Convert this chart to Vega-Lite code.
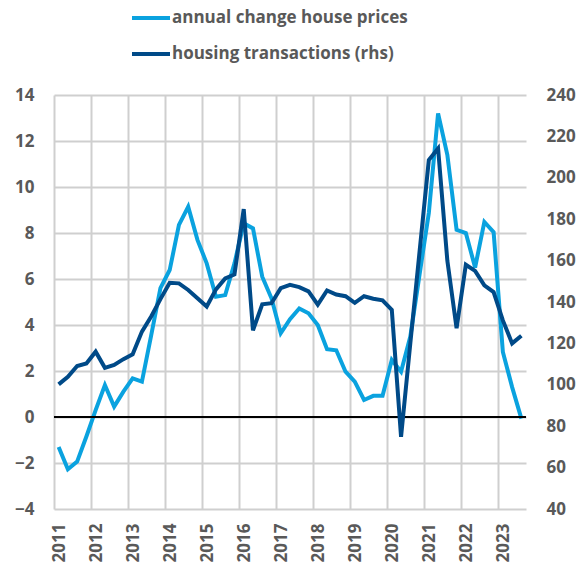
{
  "$schema": "https://vega.github.io/schema/vega-lite/v6.json",
  "width": 472,
  "height": 414,
  "autosize": "none",
  "padding": {"left": 54, "top": 95, "right": 60, "bottom": 57},
  "background": "white",
  "config": {
    "view": {"stroke": null},
    "font": "Open Sans",
    "axis": {
      "labelFont": "Open Sans",
      "labelFontWeight": "bold",
      "labelFontSize": 17,
      "labelColor": "#595959",
      "ticks": false,
      "domain": false,
      "gridColor": "#cfcfcf",
      "gridWidth": 2
    }
  },
  "data": {
    "values": [
      {"t": 2011.125, "price": -1.3, "transactions": 100.2},
      {"t": 2011.375, "price": -2.27, "transactions": 103.9},
      {"t": 2011.625, "price": -1.94, "transactions": 109.1},
      {"t": 2011.875, "price": -0.85, "transactions": 110.3},
      {"t": 2012.125, "price": 0.3, "transactions": 116.0},
      {"t": 2012.375, "price": 1.39, "transactions": 108.2},
      {"t": 2012.625, "price": 0.45, "transactions": 109.6},
      {"t": 2012.875, "price": 1.1, "transactions": 112.4},
      {"t": 2013.125, "price": 1.68, "transactions": 114.7},
      {"t": 2013.375, "price": 1.54, "transactions": 125.7},
      {"t": 2013.625, "price": 3.55, "transactions": 133.0},
      {"t": 2013.875, "price": 5.6, "transactions": 141.4},
      {"t": 2014.125, "price": 6.39, "transactions": 149.3},
      {"t": 2014.375, "price": 8.35, "transactions": 149.0},
      {"t": 2014.625, "price": 9.14, "transactions": 145.8},
      {"t": 2014.875, "price": 7.7, "transactions": 141.8},
      {"t": 2015.125, "price": 6.68, "transactions": 137.8},
      {"t": 2015.375, "price": 5.23, "transactions": 146.1},
      {"t": 2015.625, "price": 5.3, "transactions": 151.4},
      {"t": 2015.875, "price": 6.68, "transactions": 153.3},
      {"t": 2016.125, "price": 8.42, "transactions": 184.9},
      {"t": 2016.375, "price": 8.2, "transactions": 126.3},
      {"t": 2016.625, "price": 6.1, "transactions": 138.9},
      {"t": 2016.875, "price": 5.16, "transactions": 139.4},
      {"t": 2017.125, "price": 3.64, "transactions": 146.7},
      {"t": 2017.375, "price": 4.25, "transactions": 148.3},
      {"t": 2017.625, "price": 4.72, "transactions": 147.2},
      {"t": 2017.875, "price": 4.51, "transactions": 145.1},
      {"t": 2018.125, "price": 4.0, "transactions": 138.7},
      {"t": 2018.375, "price": 2.95, "transactions": 145.6},
      {"t": 2018.625, "price": 2.9, "transactions": 143.6},
      {"t": 2018.875, "price": 1.97, "transactions": 142.8},
      {"t": 2019.125, "price": 1.54, "transactions": 139.6},
      {"t": 2019.375, "price": 0.74, "transactions": 142.8},
      {"t": 2019.625, "price": 0.92, "transactions": 141.6},
      {"t": 2019.875, "price": 0.92, "transactions": 140.8},
      {"t": 2020.125, "price": 2.48, "transactions": 136.2},
      {"t": 2020.375, "price": 1.97, "transactions": 74.9},
      {"t": 2020.625, "price": 3.5, "transactions": 120.0},
      {"t": 2020.875, "price": 6.2, "transactions": 164.4},
      {"t": 2021.125, "price": 8.87, "transactions": 208.6},
      {"t": 2021.375, "price": 13.2, "transactions": 214.2},
      {"t": 2021.625, "price": 11.4, "transactions": 160.0},
      {"t": 2021.875, "price": 8.14, "transactions": 127.3},
      {"t": 2022.125, "price": 8.0, "transactions": 158.0},
      {"t": 2022.375, "price": 6.5, "transactions": 155.0},
      {"t": 2022.625, "price": 8.48, "transactions": 148.0},
      {"t": 2022.875, "price": 8.04, "transactions": 144.8},
      {"t": 2023.125, "price": 2.83, "transactions": 131.1},
      {"t": 2023.375, "price": 1.3, "transactions": 120.0},
      {"t": 2023.625, "price": -0.07, "transactions": 123.7}
    ]
  },
  "encoding": {
    "x": {
      "field": "t", "type": "quantitative",
      "scale": {"domain": [2011, 2023.75], "nice": false, "zero": false},
      "axis": {"values": [2011, 2012, 2013, 2014, 2015, 2016, 2017, 2018, 2019, 2020, 2021, 2022, 2023], "format": "d", "labelAngle": -90, "labelPadding": 14, "labelOffset": 5, "grid": true, "title": null}
    }
  },
  "layer": [
    {
      "mark": {"type": "line", "strokeWidth": 4},
      "encoding": {
        "y": {
          "field": "price", "type": "quantitative",
          "scale": {"domain": [-4, 14], "nice": false},
          "axis": {"orient": "left", "values": [-4, -2, 0, 2, 4, 6, 8, 10, 12, 14], "grid": true, "labelPadding": 20, "title": null}
        },
        "color": {
          "datum": "annual change house prices",
          "scale": {"domain": ["annual change house prices", "housing transactions (rhs)"], "range": ["#0AA2DF", "#004A88"]},
          "legend": {
            "orient": "none",
            "legendX": 76,
            "legendY": -98,
            "direction": "vertical",
            "title": null,
            "symbolType": "stroke",
            "symbolSize": 1444,
            "symbolStrokeWidth": 4,
            "labelFont": "Open Sans",
            "labelFontWeight": "bold",
            "labelFontSize": 17,
            "labelColor": "#595959",
            "labelOffset": 0,
            "labelLimit": 0,
            "rowPadding": 7
          }
        }
      }
    },
    {
      "mark": {"type": "rule", "color": "black", "strokeWidth": 2},
      "encoding": {
        "x": {"datum": 2011, "type": "quantitative"},
        "x2": {"datum": 2023.75},
        "y": {"datum": 0, "type": "quantitative", "scale": {"domain": [-4, 14], "nice": false}, "axis": null}
      }
    },
    {
      "mark": {"type": "line", "strokeWidth": 4},
      "encoding": {
        "y": {
          "field": "transactions", "type": "quantitative",
          "scale": {"domain": [40, 240], "nice": false, "zero": false},
          "axis": {"orient": "right", "values": [40, 60, 80, 100, 120, 140, 160, 180, 200, 220, 240], "grid": false, "labelPadding": 20, "title": null}
        },
        "color": {"datum": "housing transactions (rhs)"}
      }
    }
  ],
  "resolve": {"scale": {"y": "independent"}}
}
